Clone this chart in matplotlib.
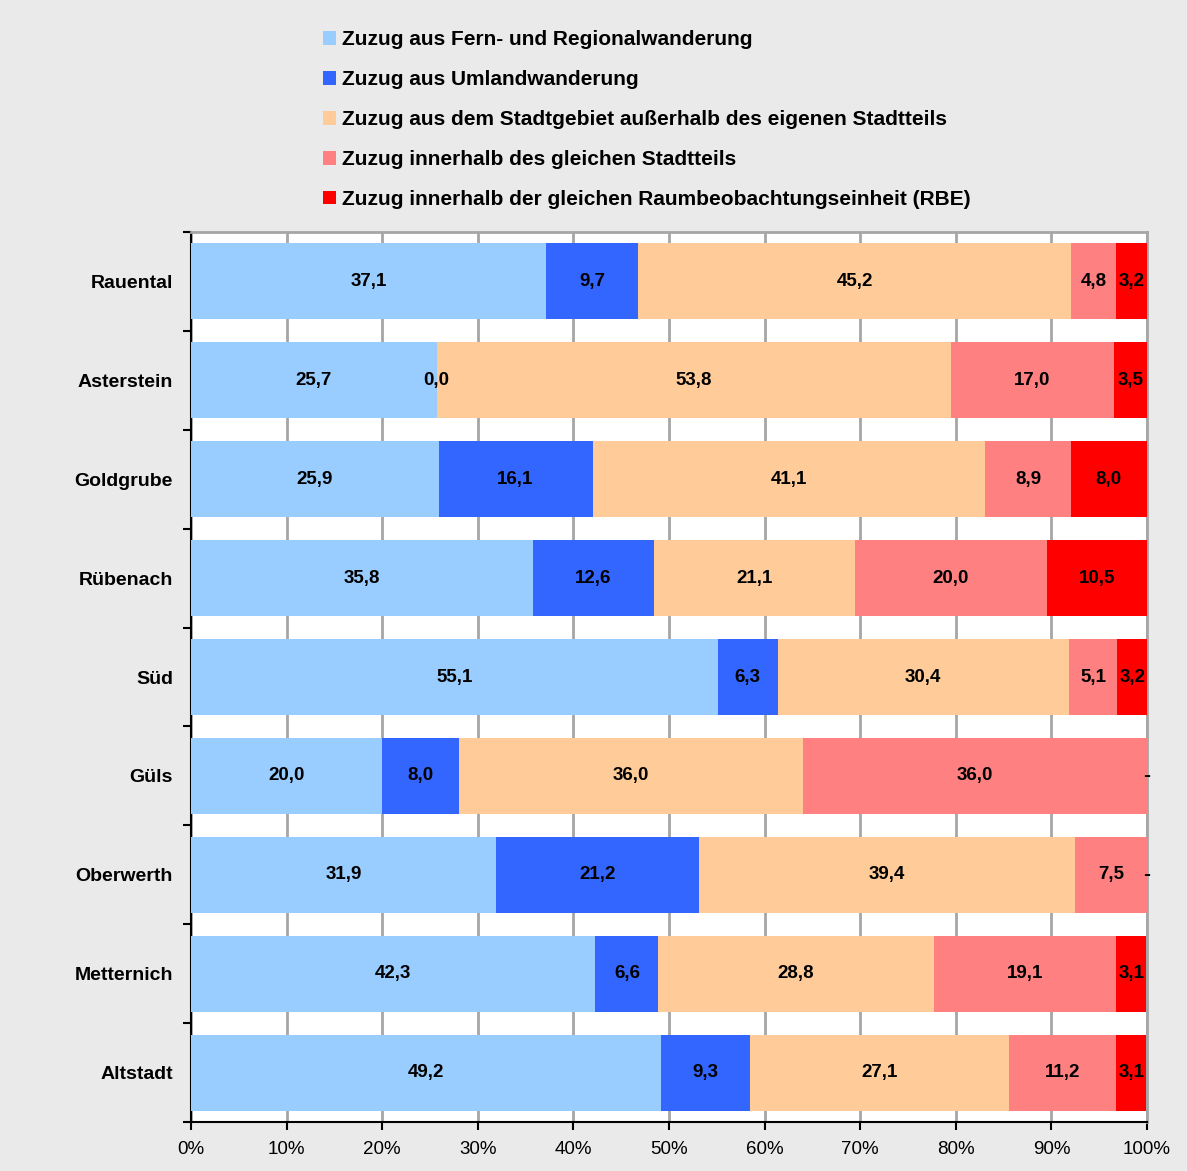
import matplotlib.pyplot as plt
import numpy as np

plt.rcParams['font.family'] = ['Liberation Sans', 'DejaVu Sans']

# Anteile der Zuzüge je Stadtteil (in %)
stadtteile = ['Rauental', 'Asterstein', 'Goldgrube', 'Rübenach', 'Süd',
              'Güls', 'Oberwerth', 'Metternich', 'Altstadt']
fern_regional = [37.1, 25.7, 25.9, 35.8, 55.1, 20.0, 31.9, 42.3, 49.2]
umland = [9.7, 0.0, 16.1, 12.6, 6.3, 8.0, 21.2, 6.6, 9.3]
stadtgebiet = [45.2, 53.8, 41.1, 21.1, 30.4, 36.0, 39.4, 28.8, 27.1]
stadtteil = [4.8, 17.0, 8.9, 20.0, 5.1, 36.0, 7.5, 19.1, 11.2]
rbe = [3.2, 3.5, 8.0, 10.5, 3.2, 0.0, 0.0, 3.1, 3.1]

reihen = [fern_regional, umland, stadtgebiet, stadtteil, rbe]
namen = ['Zuzug aus Fern- und Regionalwanderung',
         'Zuzug aus Umlandwanderung',
         'Zuzug aus dem Stadtgebiet außerhalb des eigenen Stadtteils',
         'Zuzug innerhalb des gleichen Stadtteils',
         'Zuzug innerhalb der gleichen Raumbeobachtungseinheit (RBE)']
farben = ['#99CCFF', '#3366FF', '#FFCC99', '#FF8080', '#FF0000']

fig = plt.figure(figsize=(11.87, 11.71), dpi=100, facecolor='#EAEAEA')
ax = fig.add_axes([0.1609, 0.0418, 0.8054, 0.7601])
ax.set_facecolor('white')

y = np.arange(len(stadtteile))
links = np.zeros(len(stadtteile))
handles = []
for werte, name, farbe in zip(reihen, namen, farben):
    werte = np.array(werte)
    b = ax.barh(y, werte, left=links, height=0.77, color=farbe, label=name, zorder=3)
    handles.append(b)
    for yi, l, w in zip(y, links, werte):
        if w == 0 and farbe == '#FF0000':
            # kein Wert: Strich am rechten Rand
            ax.text(100, yi, '-', ha='center', va='center', fontsize=15,
                    fontweight='bold', color='black', zorder=4)
        else:
            txt = f'{w:.1f}'.replace('.', ',')
            ax.text(l + w / 2, yi, txt, ha='center', va='center', fontsize=13.5,
                    fontweight='bold', color='black', zorder=4)
    links += werte

ax.set_xlim(0, 100)
ax.set_ylim(len(stadtteile) - 0.5, -0.5)
ax.set_xticks(np.arange(0, 101, 10))
ax.set_xticklabels([f'{v}%' for v in range(0, 101, 10)], fontsize=13.5)
ax.xaxis.grid(True, color='#A6A6A6', linewidth=2, zorder=0)

ax.set_yticks(np.arange(-0.5, len(stadtteile), 1))
ax.set_yticklabels([])
ax.set_yticks(y, minor=True)
ax.set_yticklabels(stadtteile, minor=True, fontsize=14, fontweight='bold')
ax.tick_params(axis='y', which='minor', length=0, pad=13)
ax.tick_params(axis='y', which='major', length=6, width=1.5, direction='out')
ax.tick_params(axis='x', length=6, width=1.5, direction='out', pad=8)

for s in ['top', 'right']:
    ax.spines[s].set_color('#A6A6A6')
    ax.spines[s].set_linewidth(2)
for s in ['left', 'bottom']:
    ax.spines[s].set_color('black')
    ax.spines[s].set_linewidth(1.5)

fig.legend(handles=handles, labels=namen, loc='upper left',
           bbox_to_anchor=(0.256, 0.990), frameon=False,
           handlelength=0.65, handleheight=0.65, handletextpad=0.3,
           labelspacing=1.0, prop={'weight': 'bold', 'size': 15})

fig.savefig('out.png', dpi=100, facecolor=fig.get_facecolor())
